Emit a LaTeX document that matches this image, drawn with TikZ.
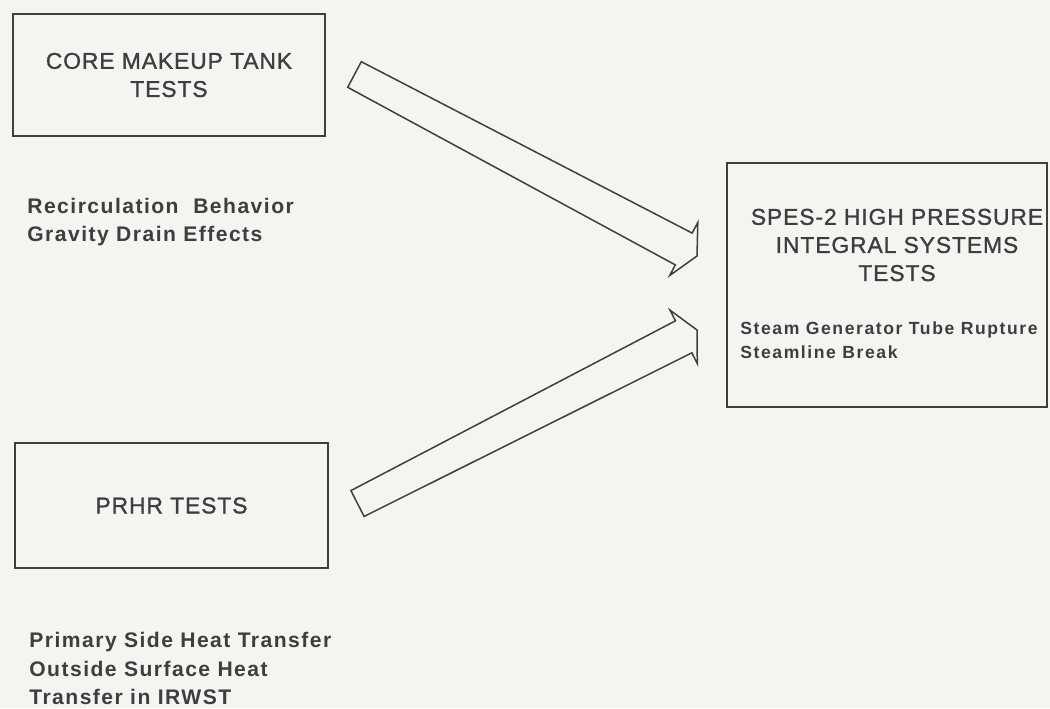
\documentclass[tikz,border=0pt]{standalone}
\usepackage{fontspec}
\setmainfont{Liberation Sans}[LetterSpace=4]
\newfontfamily\titlefont{Liberation Sans}[LetterSpace=4,FakeBold=1.2]
\newfontfamily\notefont{Liberation Sans}[LetterSpace=7]
\usepackage{tikz}
\usetikzlibrary{calc,positioning}
\definecolor{paper}{RGB}{244,244,241}
\definecolor{ink}{RGB}{62,62,62}

\begin{document}
\begin{tikzpicture}[x=0.02cm,y=0.02cm]
\tikzstyle{every node}+=[inner sep=0pt]
\tikzstyle{box}=[draw=ink, line width=0.85pt, rectangle]
\tikzstyle{title}=[text=ink, align=center, font=\titlefont\fontsize{13}{16}\selectfont]
\tikzstyle{note}=[text=ink, align=left, anchor=west, font=\notefont\bfseries\fontsize{12}{16}\selectfont]
\tikzstyle{bigarrow}=[draw=ink, line width=0.85pt, line join=miter]
\fill [paper] (0,0) rectangle (1050,-708);
\useasboundingbox (0,0) rectangle (1050,-708);
% test boxes
\node [box, title, minimum width=6.24cm, minimum height=2.44cm] (cmt) at (169,-75) {CORE MAKEUP TANK\\TESTS};
\node [box, title, minimum width=6.26cm, minimum height=2.5cm] (prhr) at (171.5,-505.5) {PRHR TESTS};
\node [box, minimum width=6.4cm, minimum height=4.88cm] (spes) at (887,-285) {};
\node [title] (spestitle) at (897,-245) {SPES-2 HIGH PRESSURE\\INTEGRAL SYSTEMS\\TESTS};
% notes
\node [note] (cmtnote) at (27,-222) {Recirculation~ Behavior\\Gravity Drain Effects};
\node [note] (prhrnote) at (29,-668.5) {Primary Side Heat Transfer\\Outside Surface Heat\\Transfer in IRWST};
\node [note, font=\notefont\addfontfeature{LetterSpace=9}\bfseries\fontsize{10}{13.6}\selectfont] (spesnote) at (740,-340) {Steam Generator Tube Rupture\\Steamline Break};
% arrows
\coordinate (cmtTail) at (354.5,-74.5);
\coordinate (cmtTip) at (697,-256);
\coordinate (cmtBase) at ($(cmtTip)!0.3cm!(cmtTail)$);
\coordinate (prhrTail) at (357.5,-503.5);
\coordinate (prhrTip) at (697,-330);
\coordinate (prhrBase) at ($(prhrTip)!0.3cm!(prhrTail)$);
\draw [bigarrow] ($(cmtTail)!0.29cm!90:(cmtTip)$) -- ($(cmtBase)!0.36cm!90:(cmtTip)$) -- ($(cmtBase)!0.6cm!90:(cmtTip)$) -- (cmtTip) -- ($(cmtBase)!0.6cm!-90:(cmtTip)$) -- ($(cmtBase)!0.36cm!-90:(cmtTip)$) -- ($(cmtTail)!0.29cm!-90:(cmtTip)$) -- cycle;
\draw [bigarrow] ($(prhrTail)!0.29cm!90:(prhrTip)$) -- ($(prhrBase)!0.36cm!90:(prhrTip)$) -- ($(prhrBase)!0.6cm!90:(prhrTip)$) -- (prhrTip) -- ($(prhrBase)!0.6cm!-90:(prhrTip)$) -- ($(prhrBase)!0.36cm!-90:(prhrTip)$) -- ($(prhrTail)!0.29cm!-90:(prhrTip)$) -- cycle;
\end{tikzpicture}
\end{document}
